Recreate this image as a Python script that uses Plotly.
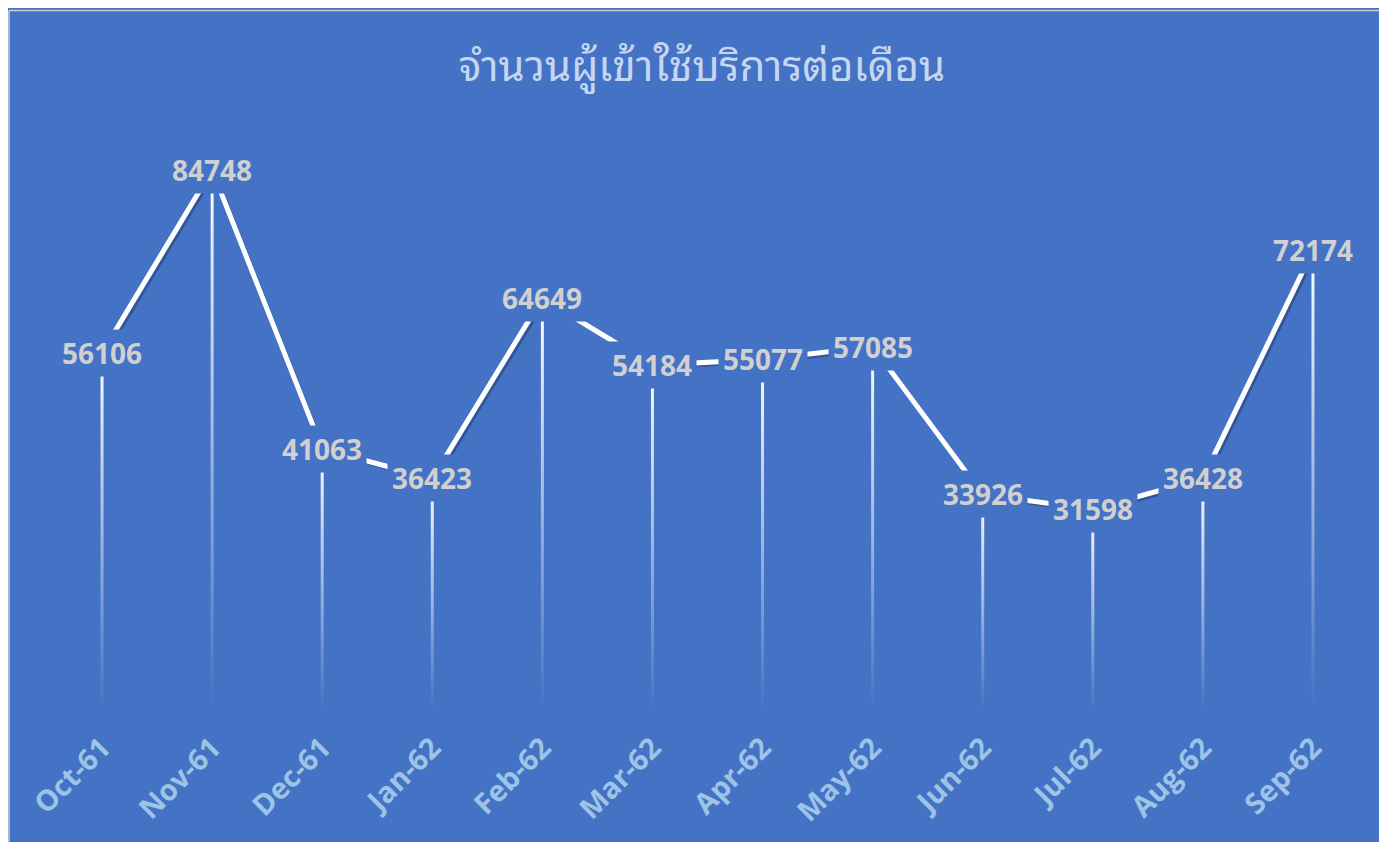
import plotly.graph_objects as go

months = ["Oct-61", "Nov-61", "Dec-61", "Jan-62", "Feb-62", "Mar-62",
          "Apr-62", "May-62", "Jun-62", "Jul-62", "Aug-62", "Sep-62"]
users = [56106, 84748, 41063, 36423, 64649, 54184,
         55077, 57085, 33926, 31598, 36428, 72174]
title_text = "จำนวนผู้เข้าใช้บริการต่อเดือน"

BG = "#4472C4"
W, H = 1400, 850
ML, MR, MT, MB = 39, 40, 92, 147
YMAX = 95710
pw = W - ML - MR
ph = H - MT - MB
xi = list(range(len(months)))
cat_px = pw / len(months)
SHX = 3 / cat_px            # shadow x offset (category units)
SHY = 3 / (ph / YMAX)       # shadow y offset (value units)
HALF = 1.5 / cat_px         # half width of drop line

fig = go.Figure()

# soft shadow of the line (base axes, shifted)
fig.add_trace(go.Scatter(x=xi, y=users, mode="lines", xaxis="x", yaxis="y",
                         line=dict(color="rgba(35,60,110,0.55)", width=2.5),
                         hoverinfo="skip", showlegend=False))

# gradient drop lines
for i, v in zip(xi, users):
    fig.add_trace(go.Scatter(
        x=[i - HALF, i + HALF, i + HALF, i - HALF, i - HALF],
        y=[0, 0, v, v, 0], mode="lines", fill="toself", xaxis="x2", yaxis="y2",
        line=dict(width=0, color="rgba(0,0,0,0)"),
        fillgradient=dict(type="vertical",
                          colorscale=[[0, "rgba(255,255,255,0)"], [0.15, "rgba(255,255,255,0.15)"],
                                      [1, "rgba(255,255,255,1)"]]),
        hoverinfo="skip", showlegend=False))

# main line
fig.add_trace(go.Scatter(x=xi, y=users, mode="lines", xaxis="x2", yaxis="y2",
                         line=dict(color="white", width=5),
                         showlegend=False))

# data labels with background fill to cut the line
for i, v in zip(xi, users):
    fig.add_annotation(x=i, y=v, xref="x2", yref="y2", text=f"<b>{v}</b>", showarrow=False,
                       font=dict(family="Open Sans, Lato, sans-serif", size=28, color="#D0D0D0"),
                       bgcolor=BG, borderpad=4, xanchor="center", yanchor="middle")

# thin grey chart border on the left and top edges
left = (1 - ML) / pw
top = (H - MB - 2.5) / ph
fig.add_shape(type="line", xref="paper", yref="paper", x0=left, x1=left,
              y0=(H - MB - H - 5) / ph, y1=top, line=dict(color="#D0D0D0", width=1.5))
fig.add_shape(type="line", xref="paper", yref="paper", x0=left, x1=(W + 5 - ML) / pw,
              y0=top, y1=top, line=dict(color="#D0D0D0", width=1.5))

fig.update_layout(
    width=W, height=H,
    margin=dict(l=ML, r=MR, t=MT, b=MB),
    paper_bgcolor=BG,
    plot_bgcolor="rgba(0,0,0,0)",
    title=dict(text=title_text, x=694 / W, xanchor="center", y=1 - 58 / H, yanchor="middle",
               font=dict(family="Noto Sans Thai Looped, Leelawadee UI, Tahoma, Loma, Garuda, Waree, Noto Sans Thai, sans-serif",
                         size=42, color="#C5D6F0")),
    xaxis=dict(range=[-0.5 - SHX, 11.5 - SHX], visible=False),
    yaxis=dict(range=[SHY, YMAX + SHY], visible=False),
    xaxis2=dict(overlaying="x", anchor="y2",
                range=[-0.5, 11.5], showgrid=False, zeroline=False,
                showline=False, ticks="", tickangle=-45,
                tickvals=xi, ticktext=[f"<b>{m}</b>" for m in months],
                tickfont=dict(family="Open Sans, Lato, sans-serif", size=29, color="#9DC3E6"),
                ticklabelstandoff=13),
    yaxis2=dict(range=[0, YMAX], overlaying="y", visible=False),
)

fig.write_html("out.html")
